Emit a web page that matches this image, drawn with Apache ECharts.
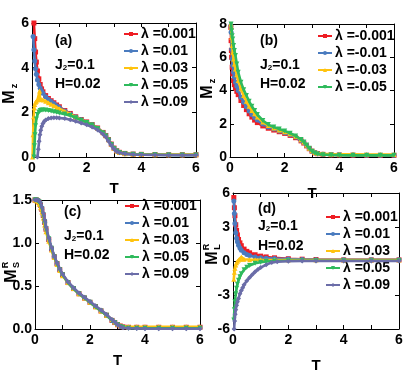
<!DOCTYPE html>
<html>
<head>
<meta charset="utf-8">
<script src="https://cdn.jsdelivr.net/npm/echarts@6/dist/echarts.min.js"></script>
<style>
html,body{margin:0;padding:0;background:#fff;}
#main{width:415px;height:374px;}
</style>
</head>
<body>
<div id="main"></div>
<script>
// panel (a): M_z, positive lambda
var aT1 = [0.07,0.1,0.13,0.16,0.2,0.25,0.3,0.35,0.4,0.5,0.6,0.7,0.8,0.9,1.0,1.2,1.4,1.6,1.8,2.0,2.2,2.4,2.6,2.7,2.8,2.9,3.0,3.1,3.2,3.4,3.7,4.0,4.5,5.0,5.5,6.0];
var aM1 = [6.0,5.3,4.7,4.25,3.85,3.5,3.25,3.05,2.92,2.75,2.62,2.52,2.43,2.33,2.25,2.08,1.95,1.8,1.68,1.57,1.45,1.3,1.1,0.96,0.78,0.58,0.4,0.28,0.21,0.16,0.13,0.12,0.11,0.1,0.1,0.1];
var aT2 = [0.04,0.07,0.1,0.13,0.16,0.2,0.25,0.3,0.35,0.4,0.5,0.6,0.7,0.8,0.9,1.0,1.2,1.4,1.6,1.8,2.0,2.2,2.4,2.6,2.7,2.8,2.9,3.0,3.1,3.2,3.4,3.7,4.0,4.5,5.0,5.5,6.0];
var aM2 = [5.4,4.8,4.3,3.95,3.7,3.45,3.25,3.08,2.95,2.85,2.7,2.58,2.48,2.39,2.3,2.22,2.06,1.93,1.79,1.67,1.56,1.44,1.29,1.09,0.95,0.77,0.57,0.39,0.27,0.2,0.15,0.12,0.11,0.1,0.1,0.09,0.09];
var aT3 = [0.02,0.04,0.06,0.08,0.1,0.13,0.16,0.2,0.25,0.27,0.28,0.29,0.3,0.35,0.4,0.5,0.6,0.7,0.8,0.9,1.0,1.2,1.4,1.6,1.8,2.0,2.2,2.4,2.6,2.7,2.8,2.9,3.0,3.1,3.2,3.4,3.7,4.0,4.5,5.0,5.5,6.0];
var aM3 = [0,1.0,1.8,2.2,2.35,2.45,2.5,2.55,2.6,2.62,2.95,2.62,2.6,2.58,2.55,2.5,2.43,2.36,2.3,2.22,2.16,2.04,1.92,1.78,1.66,1.56,1.44,1.29,1.09,0.95,0.77,0.57,0.39,0.27,0.2,0.15,0.12,0.11,0.1,0.1,0.1,0.1];
var aT4 = [0.07,0.09,0.11,0.13,0.16,0.2,0.25,0.3,0.35,0.4,0.5,0.6,0.7,0.8,0.9,1.0,1.2,1.4,1.6,1.8,2.0,2.2,2.4,2.6,2.7,2.8,2.9,3.0,3.1,3.2,3.4,3.7,4.0,4.5,5.0,5.5,6.0];
var aM4 = [0,0.5,1.0,1.4,1.7,1.9,2.02,2.08,2.1,2.1,2.1,2.08,2.06,2.03,2.0,1.97,1.92,1.86,1.76,1.65,1.55,1.43,1.28,1.08,0.94,0.76,0.56,0.38,0.27,0.2,0.15,0.12,0.11,0.1,0.09,0.09,0.09];
var aT5 = [0.2,0.23,0.26,0.29,0.32,0.36,0.4,0.45,0.5,0.6,0.7,0.8,0.9,1.0,1.2,1.4,1.6,1.8,2.0,2.2,2.4,2.6,2.7,2.8,2.9,3.0,3.1,3.2,3.4,3.7,4.0,4.5,5.0,5.5,6.0];
var aM5 = [0,0.35,0.7,1.0,1.2,1.38,1.5,1.6,1.66,1.72,1.75,1.76,1.76,1.75,1.72,1.67,1.6,1.52,1.44,1.34,1.21,1.02,0.89,0.71,0.52,0.36,0.25,0.19,0.14,0.11,0.1,0.09,0.08,0.08,0.08];

// panel (b): M_z, negative lambda
var bT1 = [0.03,0.04,0.05,0.06,0.08,0.1,0.13,0.16,0.2,0.25,0.3,0.4,0.5,0.6,0.7,0.8,0.9,1.0,1.2,1.4,1.6,1.8,2.0,2.2,2.4,2.6,2.7,2.8,2.9,3.0,3.1,3.2,3.4,3.7,4.0,4.5,5.0,5.5,6.0];
var bM1 = [7.8,7.0,6.4,6.0,5.4,5.0,4.6,4.35,4.15,3.95,3.75,3.4,3.1,2.85,2.6,2.4,2.22,2.07,1.87,1.73,1.62,1.52,1.42,1.3,1.16,0.97,0.84,0.67,0.5,0.35,0.25,0.2,0.16,0.13,0.12,0.11,0.1,0.1,0.1];
var bT = [0.03,0.04,0.06,0.08,0.1,0.13,0.16,0.2,0.25,0.3,0.4,0.5,0.6,0.7,0.8,0.9,1.0,1.2,1.4,1.6,1.8,2.0,2.2,2.4,2.6,2.7,2.8,2.9,3.0,3.1,3.2,3.4,3.7,4.0,4.5,5.0,5.5,6.0];
var bM2 = [7.9,7.5,6.5,5.9,5.5,5.1,4.8,4.5,4.25,4.0,3.6,3.3,3.02,2.77,2.56,2.38,2.22,1.98,1.81,1.68,1.57,1.46,1.34,1.2,1.0,0.87,0.69,0.51,0.35,0.25,0.2,0.16,0.14,0.13,0.12,0.11,0.11,0.11];
var bM3 = [8.0,7.8,7.2,6.7,6.3,5.9,5.6,5.3,4.95,4.6,4.1,3.7,3.35,3.05,2.8,2.6,2.4,2.1,1.9,1.75,1.63,1.52,1.4,1.25,1.04,0.9,0.72,0.53,0.37,0.27,0.22,0.19,0.17,0.16,0.16,0.15,0.15,0.15];
var bM4 = [8.2,8.0,7.6,7.3,7.1,6.7,6.4,6.1,5.6,5.1,4.5,4.05,3.7,3.35,3.05,2.8,2.55,2.2,1.95,1.8,1.68,1.57,1.43,1.27,1.05,0.9,0.72,0.52,0.35,0.24,0.18,0.14,0.12,0.11,0.1,0.1,0.1,0.1];

// panel (c): M^R_S
var cT = [0,0.05,0.1,0.15,0.2,0.25,0.3,0.35,0.4,0.5,0.6,0.7,0.8,0.9,1.0,1.2,1.4,1.6,1.8,2.0,2.2,2.4,2.6,2.8,2.9,3.0,3.1,3.2,3.4,3.7,4.0,4.5,5.0,5.5,6.0];
var cM1 = [1.5,1.5,1.49,1.47,1.44,1.39,1.32,1.24,1.16,1.04,0.93,0.84,0.76,0.69,0.63,0.54,0.47,0.41,0.36,0.31,0.26,0.21,0.16,0.1,0.075,0.05,0.035,0.025,0.02,0.02,0.02,0.02,0.02,0.02,0.02];
var cM2 = [1.5,1.5,1.49,1.47,1.44,1.39,1.32,1.24,1.16,1.04,0.93,0.84,0.76,0.69,0.63,0.54,0.47,0.41,0.36,0.31,0.26,0.21,0.16,0.1,0.075,0.05,0.033,0.022,0.016,0.015,0.015,0.015,0.015,0.015,0.015];
var cM3 = [1.5,1.49,1.48,1.45,1.41,1.36,1.29,1.21,1.13,1.02,0.92,0.83,0.75,0.68,0.62,0.54,0.47,0.41,0.36,0.31,0.26,0.21,0.16,0.11,0.08,0.055,0.04,0.03,0.025,0.025,0.025,0.025,0.025,0.025,0.025];
var cM4 = [1.5,1.5,1.49,1.48,1.45,1.4,1.33,1.25,1.17,1.05,0.94,0.84,0.76,0.69,0.63,0.54,0.47,0.41,0.36,0.31,0.26,0.21,0.16,0.1,0.075,0.05,0.03,0.018,0.01,0.008,0.008,0.008,0.008,0.008,0.008];
var cM5 = [1.5,1.5,1.5,1.49,1.47,1.42,1.35,1.27,1.19,1.06,0.95,0.85,0.77,0.7,0.64,0.55,0.48,0.42,0.37,0.32,0.27,0.22,0.17,0.11,0.08,0.05,0.03,0.015,0.008,0.005,0.004,0.003,0.003,0.003,0.003];

// panel (d): M^R_L
var dT = [0.03,0.05,0.07,0.1,0.13,0.16,0.2,0.25,0.3,0.4,0.5,0.6,0.8,1.0,1.2,1.5,2.0,2.5,3.0,4.0,5.0,6.0];
var dM1 = [5.6,4.7,4.0,3.2,2.7,2.3,1.9,1.6,1.35,1.05,0.85,0.72,0.55,0.43,0.36,0.28,0.2,0.16,0.13,0.1,0.1,0.1];
var dM2 = [5.3,4.2,3.3,2.5,2.0,1.7,1.4,1.15,0.95,0.72,0.58,0.48,0.36,0.29,0.25,0.21,0.17,0.14,0.12,0.1,0.1,0.1];
var dT3 = [0.03,0.05,0.07,0.1,0.13,0.16,0.2,0.25,0.3,0.35,0.4,0.6,0.8,1.0,1.5,2.0,3.0,4.0,5.0,6.0];
var dM3 = [-1.6,-1.0,-0.65,-0.35,-0.15,-0.02,0.08,0.15,0.35,0.18,0.15,0.12,0.11,0.1,0.09,0.09,0.08,0.08,0.08,0.08];
var dM4 = [-5.2,-4.3,-3.6,-2.9,-2.4,-2.05,-1.7,-1.38,-1.12,-0.78,-0.55,-0.4,-0.2,-0.1,-0.05,0.0,0.02,0.02,0.02,0.02,0.02,0.02];
var dT5 = [0.04,0.06,0.08,0.1,0.13,0.16,0.2,0.25,0.3,0.35,0.4,0.5,0.6,0.7,0.8,0.9,1.0,1.2,1.4,1.6,2.0,2.5,3.0,4.0,5.0,6.0];
var dM5 = [-6.0,-5.3,-4.7,-4.3,-3.9,-3.6,-3.3,-2.9,-2.6,-2.35,-2.1,-1.75,-1.45,-1.2,-0.95,-0.75,-0.58,-0.32,-0.14,-0.06,-0.02,0,0,0,0,0];

var posNames = ['λ =0.001', 'λ =0.01', 'λ =0.03', 'λ =0.05', 'λ =0.09'];
var negNames = ['λ =-0.001', 'λ =-0.01', 'λ =-0.03', 'λ =-0.05'];
var colors = ['#ee1d24', '#4a7bbf', '#ffc30f', '#2fba5c', '#6b6da8'];
var symbols = ['rect', 'circle', 'triangle', 'triangle', 'diamond'];
var rotates = [0, 0, 0, 180, 0];

var FONT = 'Liberation Sans, Arial, sans-serif';

var panels = [
    { left: 32, top: 23, width: 164, height: 134, ymin: 0, ymax: 6, yint: 2, gap: 24, dec: 0,
      names: posNames, xs: [aT1, aT2, aT3, aT4, aT5], ys: [aM1, aM2, aM3, aM4, aM5],
      legend: [123, 27], tag: '(a)', tagPos: [55, 34] },
    { left: 230, top: 24, width: 164, height: 133, ymin: 0, ymax: 8, yint: 2, gap: 29, dec: 0,
      names: negNames, xs: [bT1, bT, bT, bT], ys: [bM1, bM2, bM3, bM4],
      legend: [317, 29], tag: '(b)', tagPos: [260, 34] },
    { left: 35, top: 200, width: 165, height: 129, ymin: 0, ymax: 1.5, yint: 0.5, gap: 24, dec: 1,
      names: posNames, xs: [cT, cT, cT, cT, cT], ys: [cM1, cM2, cM3, cM4, cM5],
      legend: [124, 199], tag: '(c)', tagPos: [64, 205] },
    { left: 233, top: 193, width: 166, height: 136, ymin: -6, ymax: 6, yint: 3, gap: 29, dec: 0,
      names: posNames, xs: [dT, dT, dT3, dT, dT5], ys: [dM1, dM2, dM3, dM4, dM5],
      legend: [325, 210], tag: '(d)', tagPos: [258, 202] }
];

var grids = [], xAxes = [], yAxes = [], series = [], legends = [], graphics = [];
var tick = { show: true, inside: true, length: 4, lineStyle: { color: '#000', width: 1 } };
var axLine = { show: true, onZero: false, lineStyle: { color: '#000', width: 1 } };
var lbl = { color: '#000', fontSize: 14, fontWeight: 'bold', fontFamily: FONT };

panels.forEach(function (p, i) {
    grids.push({ left: p.left, top: p.top, width: p.width, height: p.height });
    // bottom + mirrored top x axis
    xAxes.push({ type: 'value', gridIndex: i, min: 0, max: 6, interval: 1, position: 'bottom',
        axisLine: axLine, axisTick: tick, splitLine: { show: false },
        axisLabel: Object.assign({ margin: 4, formatter: function (v) { return v % 2 === 0 ? String(v) : ''; } }, lbl),
        name: 'T', nameLocation: 'middle', nameGap: p.gap,
        nameTextStyle: { color: '#000', fontSize: 15, fontWeight: 'bold', fontFamily: FONT } });
    xAxes.push({ type: 'value', gridIndex: i, min: 0, max: 6, interval: 1, position: 'top',
        axisLine: axLine, axisTick: tick, splitLine: { show: false }, axisLabel: { show: false } });
    // left + mirrored right y axis
    yAxes.push({ type: 'value', gridIndex: i, min: p.ymin, max: p.ymax, interval: p.yint, position: 'left',
        axisLine: axLine, axisTick: tick, splitLine: { show: false },
        axisLabel: Object.assign({ margin: 3, formatter: function (v) { return v.toFixed(p.dec); } }, lbl) });
    yAxes.push({ type: 'value', gridIndex: i, min: p.ymin, max: p.ymax, interval: p.yint, position: 'right',
        axisLine: axLine, axisTick: tick, splitLine: { show: false }, axisLabel: { show: false } });

    p.names.forEach(function (nm, k) {
        var data = p.xs[k].map(function (t, j) { return [t, p.ys[k][j]]; });
        series.push({
            type: 'line', name: nm, xAxisIndex: 2 * i, yAxisIndex: 2 * i, data: data,
            symbol: symbols[k], symbolRotate: rotates[k], symbolSize: 5, showSymbol: true,
            color: colors[k], lineStyle: { width: 2.6, color: colors[k] },
            itemStyle: { color: colors[k] }, animation: false, z: 2 + k
        });
    });

    legends.push({
        data: p.names, orient: 'vertical', left: p.legend[0], top: p.legend[1],
        itemWidth: 14, itemHeight: 5, itemGap: 3, padding: 0, selectedMode: false,
        textStyle: { color: '#000', fontSize: 14, fontWeight: 'bold', fontFamily: FONT, lineHeight: 14, padding: [0, 0, 0, -2] }
    });

    var txt = { fill: '#000', fontSize: 14, fontWeight: 'bold', fontFamily: FONT };
    graphics.push({ type: 'text', left: p.tagPos[0], top: p.tagPos[1], style: Object.assign({ text: p.tag }, txt) });
    graphics.push({ type: 'text', left: p.tagPos[0], top: p.tagPos[1] + (i === 3 ? 17 : 24), style: Object.assign({
        text: '{n|J}{s|2}{n|=0.1}',
        rich: { n: { fontSize: 14, fontWeight: 'bold', fontFamily: FONT }, s: { fontSize: 8, fontWeight: 'bold', fontFamily: FONT, verticalAlign: 'bottom' } }
    }, txt) });
    graphics.push({ type: 'text', left: p.tagPos[0], top: p.tagPos[1] + (i === 3 ? 37 : 43), style: Object.assign({ text: 'H=0.02' }, txt) });
});

// rotated y axis titles
function yTitle(x, y, sup, sub) {
    var big = { fill: '#000', fontSize: 16, fontWeight: 'bold', fontFamily: FONT, align: 'center', verticalAlign: 'middle' };
    var small = { fill: '#000', fontSize: 9, fontWeight: 'bold', fontFamily: FONT, align: 'center', verticalAlign: 'middle' };
    var kids = [{ type: 'text', x: 0, y: 0, style: Object.assign({ text: 'M' }, big) }];
    kids.push({ type: 'text', x: 11, y: 5, style: Object.assign({ text: sub }, small) });
    if (sup) kids.push({ type: 'text', x: 11, y: -6, style: Object.assign({ text: sup }, small) });
    return { type: 'group', x: x, y: y, rotation: Math.PI / 2, children: kids };
}
graphics.push(yTitle(10, 97, null, 'z'));
graphics.push(yTitle(208, 92, null, 'z'));
graphics.push(yTitle(12, 276, 'R', 'S'));
graphics.push(yTitle(213, 258, 'R', 'L'));

var myChart = echarts.init(document.getElementById('main'), null, { renderer: 'canvas' });
myChart.setOption({
    backgroundColor: '#fff',
    animation: false,
    grid: grids,
    xAxis: xAxes,
    yAxis: yAxes,
    legend: legends,
    series: series,
    graphic: graphics
});
</script>
</body>
</html>
